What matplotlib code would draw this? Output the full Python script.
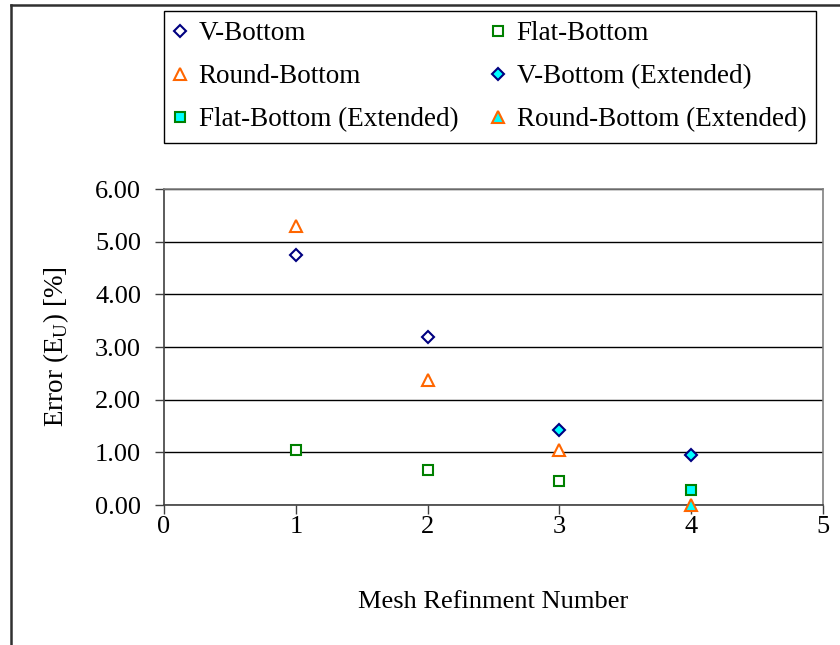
import matplotlib
matplotlib.use("Agg")
import matplotlib.pyplot as plt
from matplotlib.lines import Line2D

plt.rcParams['font.family'] = ['Liberation Serif', 'DejaVu Serif']
plt.rcParams['mathtext.fontset'] = 'custom'
plt.rcParams['mathtext.rm'] = 'Liberation Serif'

# Data
v_x = [1, 2]
v_y = [4.74, 3.19]
flat_x = [1, 2, 3]
flat_y = [1.04, 0.66, 0.46]
round_x = [1, 2, 3]
round_y = [5.29, 2.37, 1.05]
v_ext_x = [3, 4]
v_ext_y = [1.42, 0.95]
flat_ext_x = [4]
flat_ext_y = [0.28]
round_ext_x = [4]
round_ext_y = [0.00]

xticks = [0, 1, 2, 3, 4, 5]
yticks = [0, 1, 2, 3, 4, 5, 6]
ytick_labels = ["0.00", "1.00", "2.00", "3.00", "4.00", "5.00", "6.00"]

navy = "#000080"
green = "#008000"
orange = "#FF6600"
cyan = "#00FFFF"

W, H = 840, 645
fig = plt.figure(figsize=(W / 100, H / 100), dpi=100)
ax = fig.add_axes([164 / W, 1 - 505 / H, (823 - 164) / W, (505 - 189) / H])

h1, = ax.plot(v_x, v_y, 'D', ms=6.3, mfc='white', mec=navy, mew=1.5, ls='none', label='V-Bottom', zorder=3)
h2, = ax.plot(flat_x, flat_y, 's', ms=7, mfc='white', mec=green, mew=1.5, ls='none', label='Flat-Bottom', zorder=3)
h3, = ax.plot(round_x, round_y, '^', ms=8, mfc='white', mec=orange, mew=1.5, ls='none', label='Round-Bottom', zorder=3)
h4, = ax.plot(v_ext_x, v_ext_y, 'D', ms=6.3, mfc=cyan, mec=navy, mew=1.5, ls='none', label='V-Bottom (Extended)', zorder=3, clip_on=False)
h5, = ax.plot(flat_ext_x, flat_ext_y, 's', ms=7, mfc=cyan, mec=green, mew=1.5, ls='none', label='Flat-Bottom (Extended)', zorder=3, clip_on=False)
h6, = ax.plot(round_ext_x, round_ext_y, '^', ms=8, mfc=cyan, mec=orange, mew=1.5, ls='none', label='Round-Bottom (Extended)', zorder=4, clip_on=False)

ax.set_xlim(0, 5)
ax.set_ylim(0, 6)
ax.set_xticks(xticks)
ax.set_yticks(yticks)
ax.set_yticklabels(ytick_labels)
ax.yaxis.grid(True, color='black', lw=1)
ax.set_axisbelow(True)
ax.tick_params(axis='both', labelsize=19, direction='out', length=6.5, width=1, color='#404040')
ax.tick_params(axis='x', pad=1.5)
ax.tick_params(axis='y', pad=10)
for s in ['top', 'right']:
    ax.spines[s].set_color('#808080')
    ax.spines[s].set_linewidth(1.2)
ax.spines['left'].set_color('#404040')
ax.spines['bottom'].set_color('#404040')
ax.spines['left'].set_linewidth(1.2)
ax.spines['bottom'].set_linewidth(1.2)

ax.set_xlabel('Mesh Refinment Number', fontsize=19, labelpad=38)
ax.set_ylabel('Error (E$_{\\mathrm{U}}$) [%]', fontsize=19.5, labelpad=17)

handles = [h1, h3, h5, h2, h4, h6]
leg = fig.legend(handles=handles, ncol=2, loc='upper left',
                 bbox_to_anchor=(164 / W, 1 - 11 / H),
                 fontsize=19.5, frameon=True, fancybox=False,
                 edgecolor='black', framealpha=1, handlelength=0.45,
                 handletextpad=0.45, labelspacing=0.67, borderaxespad=0,
                 borderpad=0.38, columnspacing=1.25)
leg.get_frame().set_linewidth(1.0)

# outer chart frame (left and top edges visible)
fig.add_artist(Line2D([10.5 / W, 10.5 / W], [0, 1 - 4.5 / H], transform=fig.transFigure, color='#303030', lw=1.8))
fig.add_artist(Line2D([10.5 / W, 1], [1 - 4.5 / H, 1 - 4.5 / H], transform=fig.transFigure, color='#303030', lw=1.8))

fig.savefig('out.png', dpi=100)
